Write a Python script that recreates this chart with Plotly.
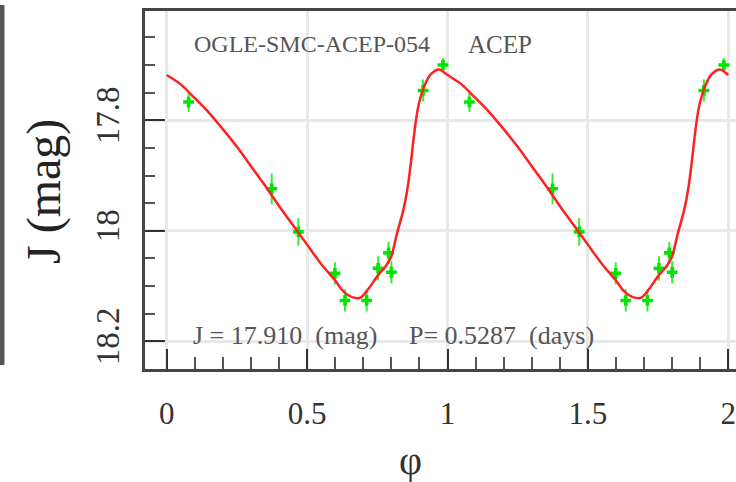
import plotly.graph_objects as go

# ---- data ----
obs_phase = [0.078, 0.374, 0.469, 0.599, 0.635, 0.712, 0.753, 0.790, 0.800, 0.913, 0.984]
obs_mag   = [17.767, 17.924, 18.002, 18.077, 18.126, 18.126, 18.068, 18.040, 18.075, 17.746, 17.700]
obs_err   = [0.018, 0.028, 0.025, 0.020, 0.020, 0.020, 0.022, 0.020, 0.020, 0.020, 0.012]

fit_phase = [0.00, 0.05, 0.10, 0.15, 0.20, 0.25, 0.30, 0.35, 0.40, 0.45, 0.50, 0.55, 0.60,
             0.63, 0.66, 0.69, 0.72, 0.75, 0.78, 0.80, 0.82, 0.84, 0.85, 0.86, 0.87, 0.88,
             0.89, 0.90, 0.92, 0.94, 0.97, 1.00]
fit_mag   = [17.718, 17.735, 17.760, 17.786, 17.816, 17.848, 17.883, 17.918, 17.955, 17.990,
             18.025, 18.060, 18.090, 18.110, 18.120, 18.121, 18.104, 18.082, 18.064, 18.046,
             18.005, 17.968, 17.945, 17.915, 17.875, 17.830, 17.792, 17.766, 17.735, 17.717,
             17.708, 17.718]

x_ticks = [0, 0.5, 1, 1.5, 2]
x_tick_labels = ["0", "0.5", "1", "1.5", "2"]
y_ticks = [17.8, 18.0, 18.2]
y_tick_labels = ["17.8", "18", "18.2"]

star_name = "OGLE-SMC-ACEP-054"
star_type = "ACEP"
mean_text = "J = 17.910\u00a0\u00a0(mag)"
period_text = "P= 0.5287\u00a0\u00a0(days)"

# two cycles
px = obs_phase + [p + 1 for p in obs_phase]
py = obs_mag + obs_mag
pe = obs_err + obs_err
fx = fit_phase + [p + 1 for p in fit_phase[1:]]
fy = fit_mag + fit_mag[1:]

SERIF = "Liberation Serif"

fig = go.Figure()
fig.add_trace(go.Scatter(
    x=px, y=py, mode="markers",
    marker=dict(symbol="cross", size=9, color="#00e600", line=dict(width=0)),
    error_y=dict(type="data", array=pe, visible=True, color="#33ee33", thickness=2, width=0),
    showlegend=False, hoverinfo="skip"))
fig.add_trace(go.Scatter(
    x=fx, y=fy, mode="lines", line=dict(color="#ff2020", width=2.5, shape="spline", smoothing=0.8),
    showlegend=False, hoverinfo="skip"))

fig.update_layout(
    width=736, height=482,
    margin=dict(l=145, r=0, t=11, b=113),
    paper_bgcolor="white", plot_bgcolor="white",
    font=dict(family=SERIF, color="#333"),
)

fig.update_xaxes(
    range=[-0.0773, 2.0274],
    tickmode="array", tickvals=x_ticks, ticktext=x_tick_labels,
    ticks="inside", ticklen=20, tickwidth=2, tickcolor="#333",
    showline=True, linecolor="#444", linewidth=3, mirror=True,
    showgrid=True, gridcolor="#e8e8e8", gridwidth=2.5,
    zeroline=False,
    tickfont=dict(size=31, family=SERIF, color="#333"),
    ticklabelstandoff=15, ticklabeloverflow="allow",
    minor=dict(tickmode="linear", tick0=0, dtick=0.1, ticks="inside", ticklen=12,
               tickwidth=2, tickcolor="#555", showgrid=False),
)
fig.update_yaxes(
    range=[18.2501, 17.6022],
    tickmode="array", tickvals=y_ticks, ticktext=y_tick_labels,
    ticks="inside", ticklen=20, tickwidth=2, tickcolor="#333",
    showline=True, linecolor="#444", linewidth=3, mirror=False,
    showgrid=True, gridcolor="#e8e8e8", gridwidth=2.5,
    zeroline=False, tickangle=-90,
    tickfont=dict(size=33, family=SERIF, color="#333"),
    ticklabelstandoff=10,
    minor=dict(tickmode="linear", tick0=17.6, dtick=0.05, ticks="inside", ticklen=10,
               tickwidth=2, tickcolor="#555", showgrid=False),
)

fig.add_annotation(text=star_name, xref="x", yref="y", x=0.09, y=17.662,
                   xanchor="left", yanchor="middle", showarrow=False,
                   font=dict(size=24, family=SERIF, color="#555"))
fig.add_annotation(text=star_type, xref="x", yref="y", x=1.066, y=17.662,
                   xanchor="left", yanchor="middle", showarrow=False,
                   font=dict(size=25, family=SERIF, color="#555"))
fig.add_annotation(text=mean_text, xref="x", yref="y", x=0.088, y=18.189,
                   xanchor="left", yanchor="middle", showarrow=False,
                   font=dict(size=26, family=SERIF, color="#555"))
fig.add_annotation(text=period_text, xref="x", yref="y", x=0.855, y=18.189,
                   xanchor="left", yanchor="middle", showarrow=False,
                   font=dict(size=26, family=SERIF, color="#555"))
# axis titles
fig.add_annotation(text="\u03c6", xref="paper", yref="paper", x=0.45, y=-0.255,
                   xanchor="center", yanchor="middle", showarrow=False,
                   font=dict(size=40, family=SERIF, color="#333"))
fig.add_annotation(text="J (mag)", xref="paper", yref="paper", x=-0.171, y=0.497,
                   xanchor="center", yanchor="middle", textangle=-90, showarrow=False,
                   font=dict(size=48, family=SERIF, color="#222"))
# neighbouring panel edge at far left
fig.add_shape(type="line", xref="paper", yref="paper", x0=-0.242, x1=-0.242,
              y0=1.0168, y1=0.0112, line=dict(color="#555", width=5, dash="solid"))

fig.write_html("out.html")
